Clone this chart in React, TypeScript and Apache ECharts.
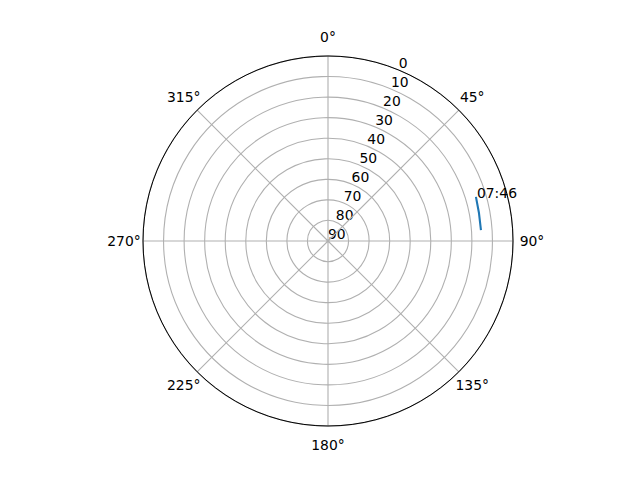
import { useEffect, useRef } from 'react';
import * as echarts from 'echarts';

// satellite track (azimuth in degrees clockwise from north, elevation in degrees)
const azimuth = [73.4, 79.5, 85.9];
const elevation = [14.9, 15.3, 15.4];
const startTime = '07:46';

const angleTicks = [0, 45, 90, 135, 180, 225, 270, 315];
const radiusTicks = [0, 10, 20, 30, 40, 50, 60, 70, 80, 90];

const font = 'DejaVu Sans';
const gridColor = '#b0b0b0';

export default function App() {
  const chartRef = useRef<HTMLDivElement>(null);

  useEffect(() => {
    if (!chartRef.current) return;
    const chart = echarts.init(chartRef.current, undefined, { renderer: 'svg' });

    const center = [328, 241];
    const radius = 185;
    const rMax = radiusTicks[radiusTicks.length - 1];
    // angle labels sit centred 19px outside the rim (radius axis is inverted)
    const labelR = rMax - ((radius + 19) / radius) * rMax;

    chart.setOption({
      animation: false,
      backgroundColor: '#ffffff',
      polar: [
        { center, radius },
        { center, radius },
      ],
      angleAxis: [
        {
          polarIndex: 0,
          type: 'value',
          min: 0,
          max: 360,
          interval: 45,
          startAngle: 90,
          clockwise: true,
          axisLine: { show: true, lineStyle: { color: '#000000', width: 1 } },
          axisTick: { show: false },
          axisLabel: { show: false },
          splitLine: { show: true, lineStyle: { color: gridColor, width: 1.1 } },
          z: 5,
        },
        {
          polarIndex: 1,
          type: 'value',
          min: 0,
          max: 360,
          startAngle: 67.5,
          clockwise: true,
          axisLine: { show: false },
          axisTick: { show: false },
          axisLabel: { show: false },
          splitLine: { show: false },
        },
      ],
      radiusAxis: [
        {
          polarIndex: 0,
          type: 'value',
          min: radiusTicks[0],
          max: rMax,
          interval: 10,
          inverse: true,
          axisLine: { show: false },
          axisTick: { show: false },
          axisLabel: { show: false },
          splitLine: { show: true, lineStyle: { color: gridColor, width: 1.1 } },
        },
        {
          polarIndex: 1,
          type: 'value',
          min: radiusTicks[0],
          max: rMax,
          interval: 10,
          inverse: true,
          axisLine: { show: false },
          axisTick: { show: false },
          splitLine: { show: false },
          axisLabel: {
            show: true,
            margin: 0,
            rotate: 0,
            align: 'left',
            verticalAlign: 'bottom',
            color: '#000000',
            fontFamily: font,
            fontSize: 13.9,
          },
        },
      ],
      series: [
        {
          type: 'line',
          coordinateSystem: 'polar',
          polarIndex: 0,
          symbol: 'none',
          lineStyle: { color: '#1f77b4', width: 2.1 },
          data: elevation.map((e, i) => [e, azimuth[i]]),
          z: 10,
        },
        {
          type: 'scatter',
          coordinateSystem: 'polar',
          polarIndex: 0,
          symbolSize: 0,
          itemStyle: { color: '#1f77b4', opacity: 0 },
          label: {
            show: true,
            position: [1, 3],
            align: 'left',
            verticalAlign: 'bottom',
            formatter: startTime,
            color: '#000000',
            opacity: 1,
            fontFamily: font,
            fontSize: 13.9,
          },
          data: [[elevation[0], azimuth[0]]],
          z: 11,
        },
        {
          // angle tick labels, centred like matplotlib's
          type: 'scatter',
          coordinateSystem: 'polar',
          polarIndex: 0,
          clip: false,
          silent: true,
          symbolSize: 0,
          itemStyle: { color: '#000000', opacity: 0 },
          label: {
            show: true,
            position: [0, 0],
            align: 'center',
            verticalAlign: 'middle',
            formatter: (p: any) => `${p.value[1]}°`,
            color: '#000000',
            opacity: 1,
            fontFamily: font,
            fontSize: 13.9,
          },
          data: angleTicks.map((a) => [labelR, a]),
          z: 11,
        },
      ],
    });

    return () => {
      chart.dispose();
    };
  }, []);

  return (
    <div
      ref={chartRef}
      style={{ position: 'fixed', left: 0, top: 0, width: '640px', height: '480px' }}
    />
  );
}
